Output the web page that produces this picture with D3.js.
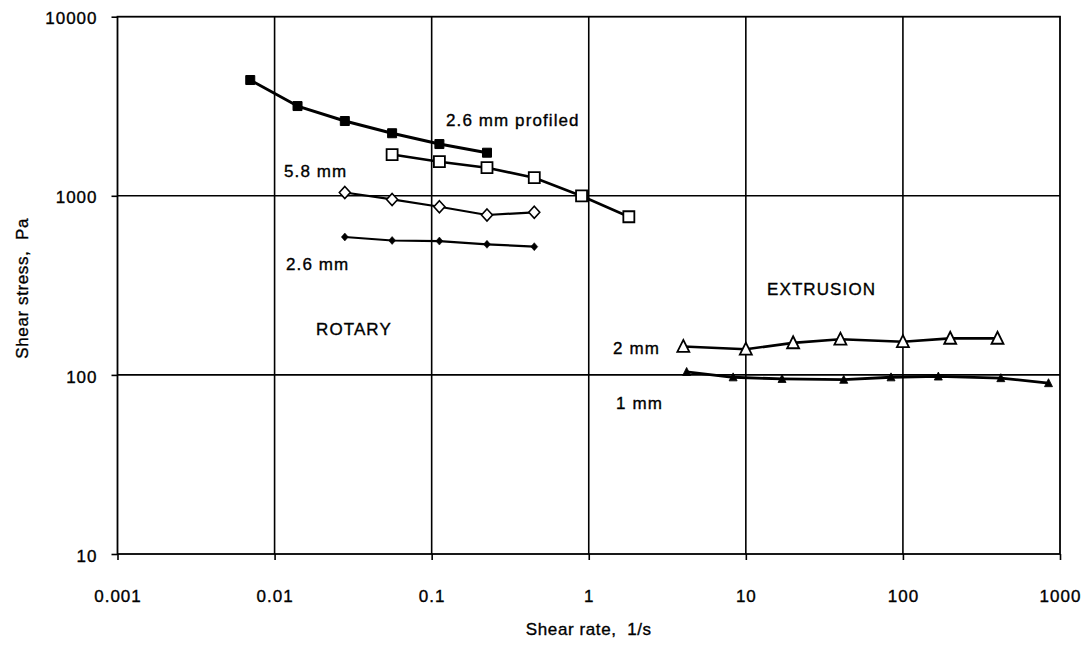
<!DOCTYPE html>
<html><head><meta charset="utf-8">
<script src="https://cdn.jsdelivr.net/npm/d3@7"></script>
<style>
body{margin:0;background:#fff}
svg text{font-family:"Liberation Sans",Arial,Helvetica,sans-serif;fill:#000;stroke:#000;stroke-width:0.35px;white-space:pre}
</style>
</head><body><svg id="c" width="1085" height="645"></svg>
<script>
// ---- data ----
const xTicks = [0.001, 0.01, 0.1, 1, 10, 100, 1000];
const xTickLabels = ["0.001", "0.01", "0.1", "1", "10", "100", "1000"];
const yTicks = [10, 100, 1000, 10000];
const yTickLabels = ["10", "100", "1000", "10000"];

// Rotary, 2.6 mm profiled (filled squares)
const profiledX = [0.007, 0.014, 0.028, 0.056, 0.112, 0.225];
const profiledY = [4430, 3170, 2615, 2235, 1945, 1740];
// Rotary, open squares
const openSqX = [0.056, 0.112, 0.225, 0.45, 0.9, 1.8];
const openSqY = [1700, 1550, 1435, 1262, 998, 764];
// Rotary, 5.8 mm (open diamonds)
const mm58X = [0.028, 0.056, 0.112, 0.225, 0.45];
const mm58Y = [1043, 954, 869, 781, 809];
// Rotary, 2.6 mm (small filled diamonds)
const mm26X = [0.028, 0.056, 0.112, 0.225, 0.45];
const mm26Y = [589, 563, 559, 536, 520];
// Extrusion, 2 mm (open triangles)
const ext2X = [4, 10, 20, 40, 100, 200, 400];
const ext2Y = [144, 139, 151, 158, 153, 160, 160];
// Extrusion, 1 mm (filled triangles)
const ext1X = [4.2, 8.3, 17, 42, 84, 168, 420, 845];
const ext1Y = [104, 97, 95, 94, 97, 98, 96, 90];

const xTitle = "Shear rate,  1/s";
const yTitle = "Shear stress,  Pa";

// ---- layout ----
const L = 117.5, T = 16.7, R = 1060, B = 554;
const svg = d3.select("#c");
const x = d3.scaleLog().domain([0.001, 1000]).range([L, R]);
const y = d3.scaleLog().domain([10, 10000]).range([B, T]);

// gridlines
const g = svg.append("g");
g.selectAll("line.vx").data(xTicks.slice(1, -1)).join("line")
  .attr("x1", d => x(d)).attr("x2", d => x(d)).attr("y1", T).attr("y2", B)
  .attr("stroke", "#000").attr("stroke-width", 1.6);
g.selectAll("line.hy").data(yTicks.slice(1, -1)).join("line")
  .attr("y1", d => y(d)).attr("y2", d => y(d)).attr("x1", L).attr("x2", R)
  .attr("stroke", "#000").attr("stroke-width", 1.6);
// frame
g.append("rect").attr("x", L).attr("y", T).attr("width", R - L).attr("height", B - T)
  .attr("fill", "none").attr("stroke", "#000").attr("stroke-width", 1.8);

// axes
const xAxis = d3.axisBottom(x).tickValues(xTicks)
  .tickFormat((d, i) => xTickLabels[i]).tickSize(6).tickPadding(30);
const yAxis = d3.axisLeft(y).tickValues(yTicks)
  .tickFormat((d, i) => yTickLabels[i]).tickSize(6).tickPadding(14);
const gx = svg.append("g").attr("transform", `translate(0,${B})`).call(xAxis);
const gy = svg.append("g").attr("transform", `translate(${L},0)`).call(yAxis);
[gx, gy].forEach(a => {
  a.select(".domain").remove();
  a.selectAll(".tick line").attr("stroke", "#000").attr("stroke-width", 1.6);
  a.selectAll(".tick text").style("font-size", "17px").style("letter-spacing", "1px").attr("fill", "#000");
});
gy.selectAll(".tick text").attr("dy", "0.42em");

svg.append("text").attr("x", x(1)).attr("y", 635).attr("text-anchor", "middle")
  .style("font-size", "17px").style("letter-spacing", "0.6px").text(xTitle);
svg.append("text").attr("transform", `translate(28,${(T + B) / 2 + 3}) rotate(-90)`)
  .attr("text-anchor", "middle").style("font-size", "17px").style("letter-spacing", "0.6px").text(yTitle);

// ---- series ----
const line = d3.line().x(d => x(d[0])).y(d => y(d[1]));
function zip(a, b) { return a.map((v, i) => [v, b[i]]); }

const squarePath = s => `M${-s/2},${-s/2}H${s/2}V${s/2}H${-s/2}Z`;
const diamondPath = (w, h) => `M0,${-h/2}L${w/2},0L0,${h/2}L${-w/2},0Z`;
const trianglePath = (w, h) => `M0,${-h*0.55}L${w/2},${h*0.45}L${-w/2},${h*0.45}Z`;

const series = [
  { xs: profiledX, ys: profiledY, lw: 3, path: squarePath(9), fill: "#000", sw: 1 },
  { xs: openSqX, ys: openSqY, lw: 2.6, path: squarePath(11), fill: "#fff", sw: 1.8 },
  { xs: mm58X, ys: mm58Y, lw: 2.2, path: diamondPath(11, 12), fill: "#fff", sw: 1.6 },
  { xs: mm26X, ys: mm26Y, lw: 2.2, path: diamondPath(7, 8), fill: "#000", sw: 0.5 },
  { xs: ext2X, ys: ext2Y, lw: 2.6, path: trianglePath(12, 12), fill: "#fff", sw: 1.8 },
  { xs: ext1X, ys: ext1Y, lw: 2.8, path: trianglePath(8, 8), fill: "#000", sw: 0.8 }
];

series.forEach(s => {
  const pts = zip(s.xs, s.ys);
  svg.append("path").attr("d", line(pts)).attr("fill", "none")
    .attr("stroke", "#000").attr("stroke-width", s.lw).attr("stroke-linejoin", "round");
  svg.append("g").selectAll("path").data(pts).join("path")
    .attr("transform", d => `translate(${x(d[0])},${y(d[1])})`)
    .attr("d", s.path).attr("fill", s.fill).attr("stroke", "#000").attr("stroke-width", s.sw);
});

// ---- annotations ----
const notes = [
  { t: "2.6 mm profiled", x: 446, y: 126 },
  { t: "5.8 mm", x: 284, y: 177 },
  { t: "2.6 mm", x: 286, y: 270 },
  { t: "ROTARY", x: 316, y: 335 },
  { t: "EXTRUSION", x: 767, y: 295 },
  { t: "2 mm", x: 613, y: 354 },
  { t: "1 mm", x: 616, y: 409 }
];
svg.append("g").selectAll("text").data(notes).join("text")
  .attr("x", d => d.x).attr("y", d => d.y).text(d => d.t)
  .style("font-size", "17px").style("letter-spacing", "1.1px");
</script>
</body></html>
